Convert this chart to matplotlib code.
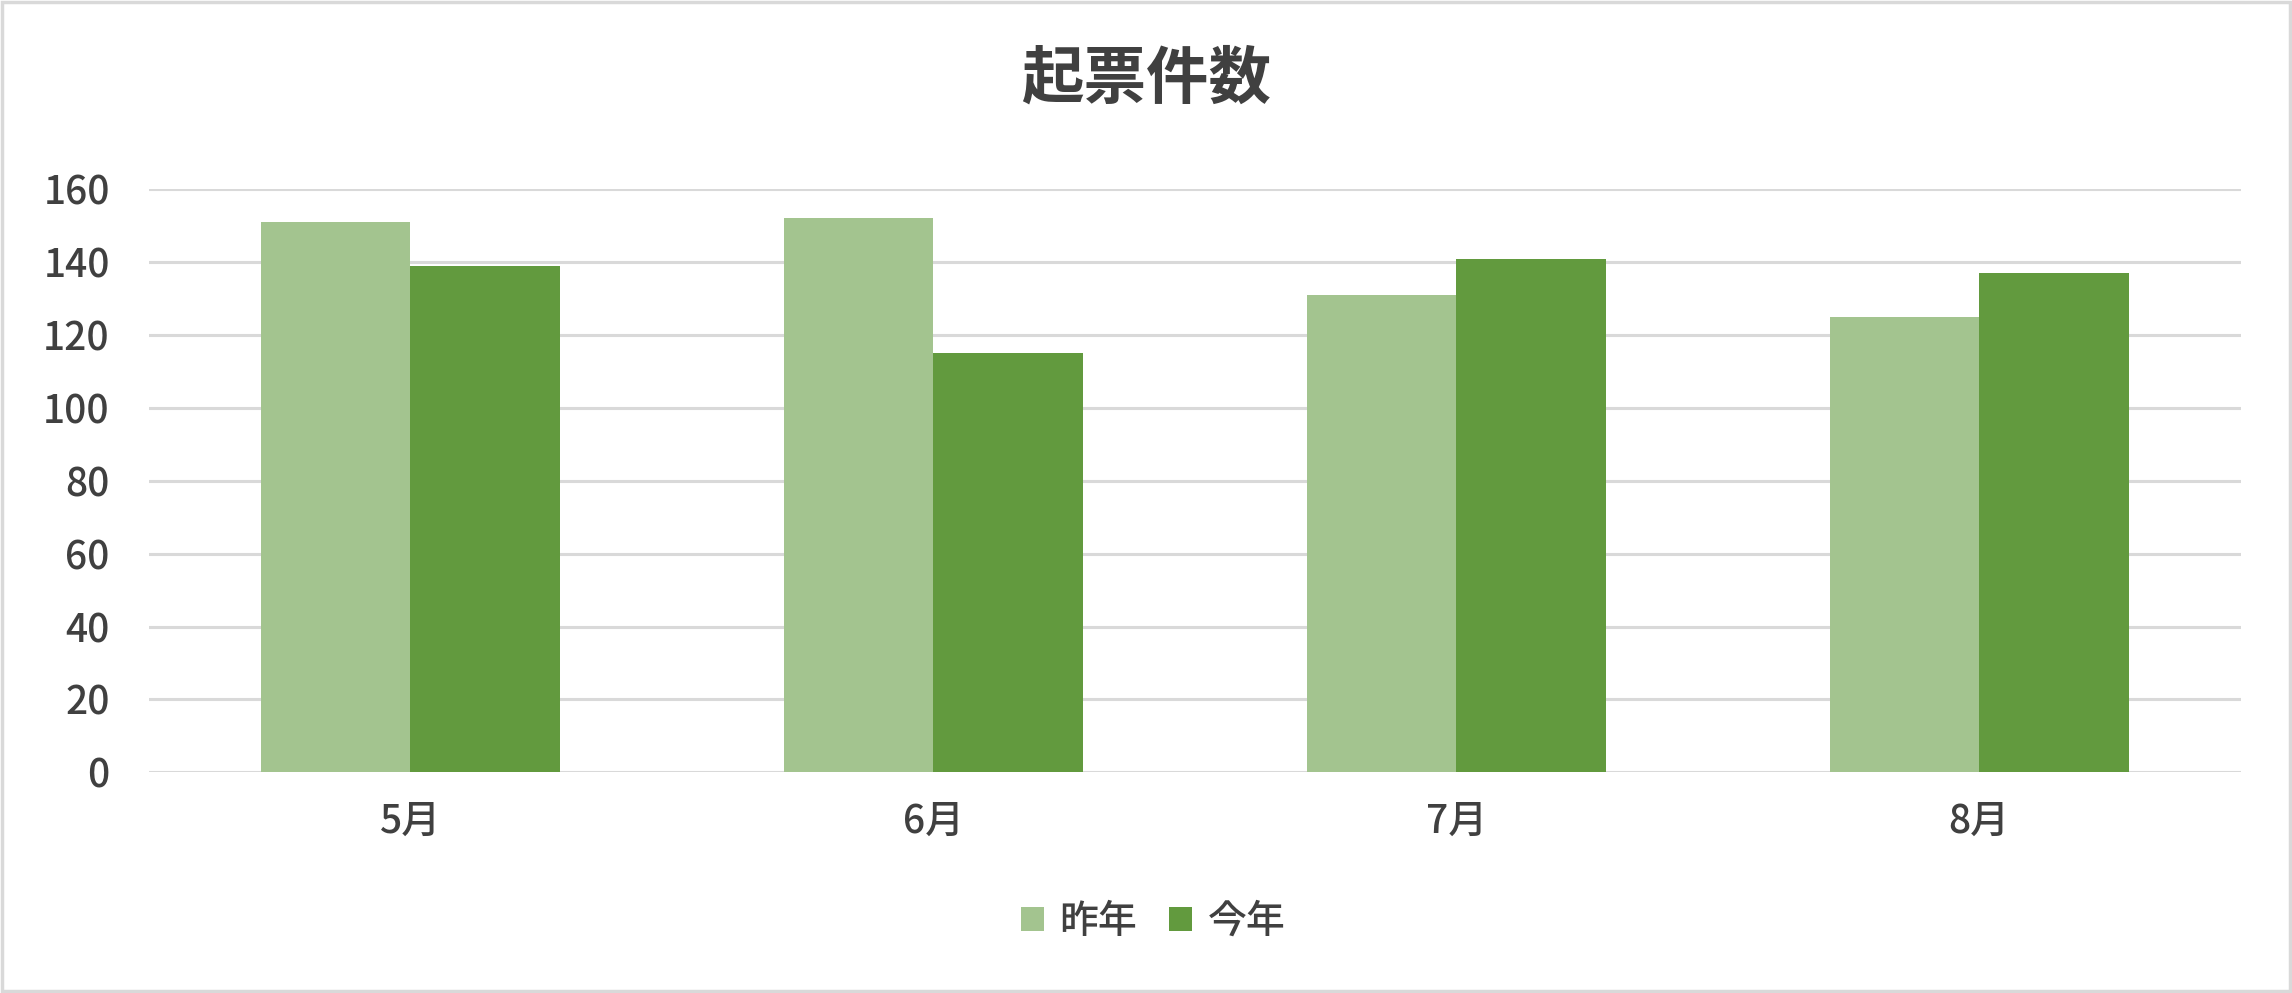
import matplotlib
matplotlib.use("Agg")
import matplotlib.pyplot as plt
from matplotlib.patches import Rectangle
import numpy as np

plt.rcParams['font.family'] = ['Noto Sans CJK JP', 'DejaVu Sans']
plt.rcParams['font.weight'] = 'medium'

title = "起票件数"
categories = ["5月", "6月", "7月", "8月"]
series_names = ["昨年", "今年"]
last_year = [151, 152, 131, 125]
this_year = [139, 115, 141, 137]
yticks = [0, 20, 40, 60, 80, 100, 120, 140, 160]

c_last = "#A3C48F"
c_this = "#629A3E"
txt = "#404040"
grid = "#D9D9D9"

W, H = 2292, 993
fig = plt.figure(figsize=(W / 100, H / 100), dpi=100)
ax = fig.add_axes([148.7 / W, 1 - 772.3 / H, (2240.6 - 148.7) / W, (772.3 - 189.3) / H])

x = np.arange(len(categories))
bw = 1 / 3.5
ax.bar(x - bw / 2, last_year, width=bw, color=c_last, label=series_names[0], zorder=3)
ax.bar(x + bw / 2, this_year, width=bw, color=c_this, label=series_names[1], zorder=3)

ax.set_xlim(-0.5, len(categories) - 0.5)
ax.set_ylim(0, 160)
ax.set_yticks(yticks)
ax.set_yticklabels([str(v) for v in yticks])
ax.set_xticks(x)
ax.set_xticklabels(categories)
ax.tick_params(axis='y', length=0, pad=28, labelsize=28, labelcolor=txt)
ax.tick_params(axis='x', length=0, pad=21, labelsize=28, labelcolor=txt)
ax.yaxis.grid(True, color=grid, linewidth=2.2, zorder=0)
ax.set_axisbelow(True)
for s in ax.spines.values():
    s.set_visible(False)

fig.text(1146 / W, 1 - 79.5 / H, title, ha='center', va='center', fontsize=45,
         color=txt, fontweight='bold')

leg = fig.legend(loc='center', bbox_to_anchor=(1153 / W, 1 - 921.7 / H), ncol=2, frameon=False,
                 fontsize=28, labelcolor=txt, handlelength=0.6, handleheight=0.6,
                 handletextpad=0.4, columnspacing=0.8)

fig.patches.append(Rectangle((0.001, 0.002), 0.998, 0.996, transform=fig.transFigure,
                             fill=False, edgecolor=grid, linewidth=2.5))

fig.savefig("out.png", dpi=100, facecolor="white")
